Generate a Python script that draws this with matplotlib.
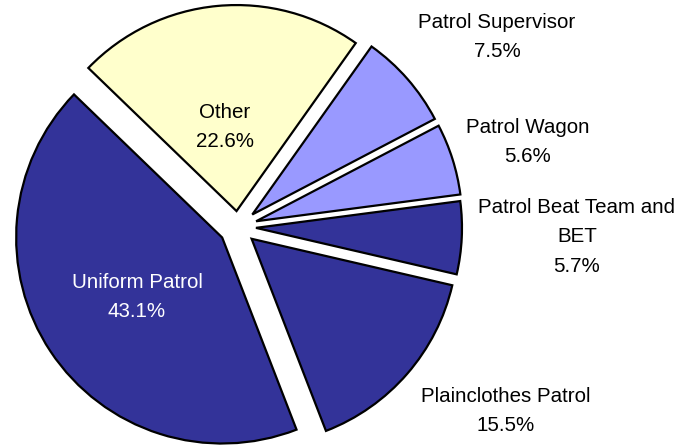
import matplotlib
matplotlib.use('Agg')
import matplotlib.pyplot as plt

names = ['Other', 'Patrol Supervisor', 'Patrol Wagon', 'Patrol Beat Team and\nBET',
         'Plainclothes Patrol', 'Uniform Patrol']
shares = [22.6, 7.5, 5.6, 5.7, 15.5, 43.1]
colors = ['#FFFFCC', '#9999FF', '#9999FF', '#333399', '#333399', '#333399']
# explode distances in pixels (axes are 1 unit = 1 px)
explode = [16, 19, 19, 18, 18, 19]

# label placement in pixel coords (x, y from top) and text colour
label_pos = [(225, 127), (497, 37), (528, 142), (577, 237), (506, 411), (137, 297)]
label_col = ['black', 'black', 'black', 'black', 'black', 'white']

plt.rcParams['font.family'] = ['Liberation Sans', 'DejaVu Sans']

W, H = 679, 447
fig = plt.figure(figsize=(W / 100, H / 100), dpi=100)
ax = fig.add_axes([0, 0, 1, 1])

ax.pie(shares, colors=colors, explode=explode, startangle=136, counterclock=False,
       center=(238, H - 227), radius=206, normalize=True,
       wedgeprops={'edgecolor': 'black', 'linewidth': 1.6})

for name, val, (x, y), c in zip(names, shares, label_pos, label_col):
    ax.text(x, H - y, f'{name}\n{val:.1f}%', ha='center', va='center',
            fontsize=14.8, color=c, linespacing=1.72)

ax.set_xlim(0, W)
ax.set_ylim(0, H)
ax.set_aspect('equal')
ax.axis('off')

fig.savefig('out.png', dpi=100)
